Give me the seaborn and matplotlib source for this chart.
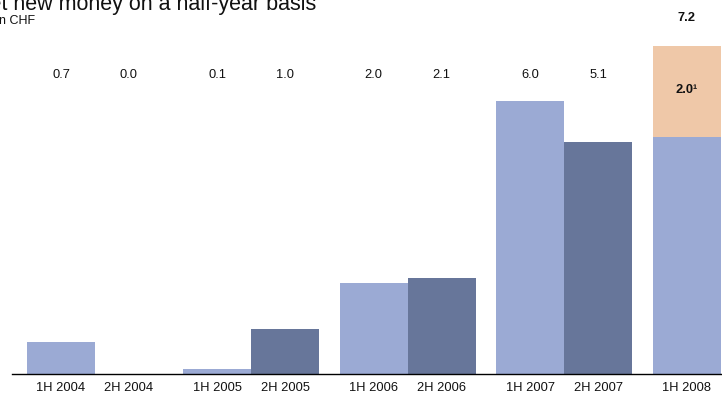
import matplotlib
matplotlib.use("Agg")
import matplotlib.pyplot as plt
import seaborn as sns
import pandas as pd

# Net new money per half-year, CHF bn
periods = ["1H 2004", "2H 2004", "1H 2005", "2H 2005", "1H 2006",
           "2H 2006", "1H 2007", "2H 2007", "1H 2008"]
halves = ["1H", "2H", "1H", "2H", "1H", "2H", "1H", "2H", "1H"]
net_new_money = [0.7, 0.0, 0.1, 1.0, 2.0, 2.1, 6.0, 5.1, 7.2]
value_labels = ["0.7", "0.0", "0.1", "1.0", "2.0", "2.1", "6.0", "5.1", "7.2"]
# 1H 2008 contains a footnoted component
footnote_part = 2.0
footnote_label = "2.0\u00b9"

LIGHT = "#9BAAD4"
DARK = "#67769A"
PEACH = "#EFC8A8"

sns.set_theme(style="white")
plt.rcParams["font.family"] = ["Liberation Sans", "DejaVu Sans"]

# half-years of one year sit side by side, years are separated by a gap
pitch = 2.3
pos = []
for i, h in enumerate(halves):
    pos.append((i // 2) * pitch + (1.0 if h == "2H" else 0.0))

df = pd.DataFrame({"pos": pos, "period": periods, "half": halves,
                   "value": net_new_money})
last_total = net_new_money[-1]
last_base = round(last_total - footnote_part, 1)
df["base"] = df["value"]
df.loc[df.index[-1], "base"] = last_base

fig = plt.figure(figsize=(7.22, 4.01), dpi=100)
ax = fig.add_axes([0, 27 / 401, 1, 1 - 27 / 401])

# full height of the last bar in peach, its base drawn over it
sns.barplot(data=df.iloc[[-1]], x="pos", y="value", native_scale=True,
            color=PEACH, width=1.0, saturation=1, ax=ax, linewidth=0,
            errorbar=None)
sns.barplot(data=df, x="pos", y="base", hue="half", native_scale=True,
            palette={"1H": LIGHT, "2H": DARK}, width=1.0, saturation=1,
            dodge=False, ax=ax, linewidth=0, errorbar=None, legend=False)

ppx = 68.0
ax.set_xlim(-61 / ppx, (722 - 61) / ppx)
ax.set_ylim(0, 374 / 45.5)

for s in ["left", "right", "top"]:
    ax.spines[s].set_visible(False)
ax.spines["bottom"].set_color("black")
ax.spines["bottom"].set_linewidth(1.0)
ax.spines["bottom"].set_bounds(-0.72, 20)

ax.set_xticks(pos)
ax.set_xticklabels(periods, fontsize=9.3, color="#111111")
ax.tick_params(axis="x", which="major", length=0, pad=6)
seps = [-0.72] + [k * pitch + 1.5 + (pitch - 2) / 2 for k in range(4)]
ax.set_xticks(seps, minor=True)
ax.tick_params(axis="x", which="minor", length=3.5, width=1.2,
               color="#6B7AA0", direction="out")
ax.set_yticks([])
ax.set_xlabel("")
ax.set_ylabel("")

label_y = (374 - 75) / 45.5
for p, lab in zip(pos[:-1], value_labels[:-1]):
    ax.text(p, label_y, lab, ha="center", va="center", fontsize=9.3,
            color="#111111")
ax.text(pos[-1], (374 - 18) / 45.5, value_labels[-1], ha="center",
        va="center", fontsize=9.3, fontweight="bold", color="#111111")
ax.text(pos[-1], (374 - 90) / 45.5, footnote_label, ha="center",
        va="center", fontsize=9.3, fontweight="bold", color="#111111")

fig.text(316 / 722, 1 - 10 / 401, "Net new money on a half-year basis",
         ha="right", va="baseline", fontsize=15.5, color="#111111")
fig.text(35 / 722, 1 - 24 / 401, "bn CHF", ha="right", va="baseline",
         fontsize=9, color="#111111")

fig.savefig("out.png", dpi=100)
